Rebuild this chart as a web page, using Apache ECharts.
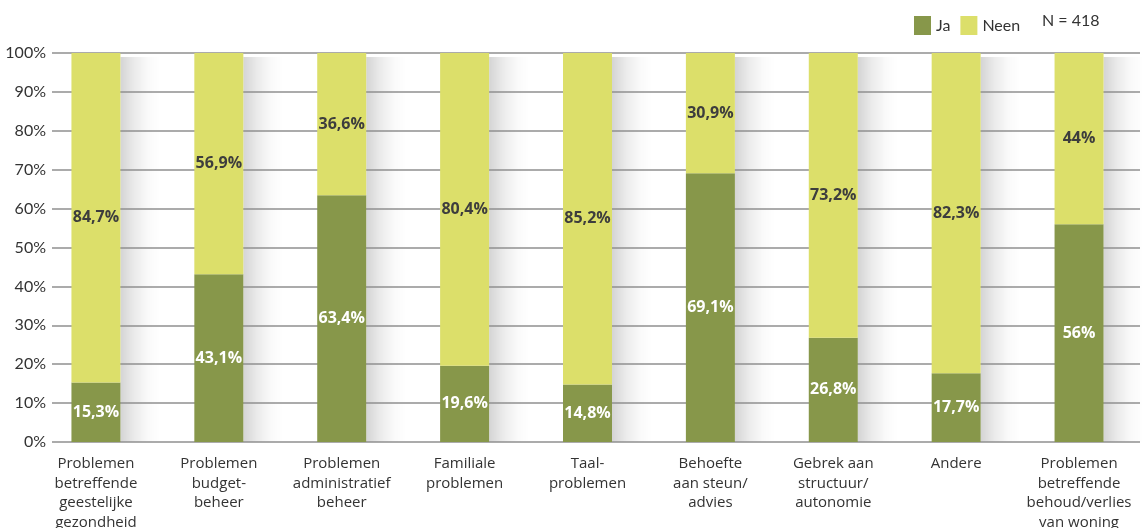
<!DOCTYPE html>
<html><head><meta charset="utf-8">
<script src="https://cdn.jsdelivr.net/npm/echarts@6/dist/echarts.min.js"></script>
<style>html,body{margin:0;padding:0;background:#fff}#c{width:1142px;height:528px}</style>
</head><body><div id="c"></div>
<script>
const categories = [
  "Problemen\nbetreffende\ngeestelijke\ngezondheid",
  "Problemen\nbudget-\nbeheer",
  "Problemen\nadministratief\nbeheer",
  "Familiale\nproblemen",
  "Taal-\nproblemen",
  "Behoefte\naan steun/\nadvies",
  "Gebrek aan\nstructuur/\nautonomie",
  "Andere",
  "Problemen\nbetreffende\nbehoud/verlies\nvan woning"
];
const ja = [15.3, 43.1, 63.4, 19.6, 14.8, 69.1, 26.8, 17.7, 56];
const neen = [84.7, 56.9, 36.6, 80.4, 85.2, 30.9, 73.2, 82.3, 44];
const yTicks = [0, 10, 20, 30, 40, 50, 60, 70, 80, 90, 100];
const totals = ja.map((v, i) => +(v + neen[i]).toFixed(1));

const FONT = 'Lato, "Noto Sans", sans-serif';
const LFONT = '"Open Sans", "Noto Sans", sans-serif';
const fmt = p => String(p.value).replace('.', ',') + '%';
const BAR_W = 49, SH_W = 40;
const chart = echarts.init(document.getElementById('c'));
chart.setOption({
  animation: false,
  textStyle: { fontFamily: FONT },
  legend: {
    data: ['Ja', 'Neen'], left: 909, top: 11,
    itemWidth: 17, itemHeight: 19, itemGap: 10,
    icon: 'rect',
    textStyle: { fontSize: 16, color: '#333', fontFamily: FONT }
  },
  graphic: [{ type: 'text', left: 1042, top: 13, style: { text: 'N = 418', font: '16px ' + FONT, fill: '#333' } }],
  grid: [
    { left: 34.5, right: 1.5, top: 53, bottom: 86, outerBoundsMode: 'none', containLabel: false },
    { left: 52, right: 2, top: 53, bottom: 86, outerBoundsMode: 'none', containLabel: false }
  ],
  xAxis: [
    { type: 'category', data: categories, gridIndex: 0,
      axisLine: { show: false }, axisTick: { show: false },
      axisLabel: { interval: 0, color: '#333', fontSize: 15, lineHeight: 19.5, margin: 12, fontFamily: LFONT } },
    { type: 'category', data: categories, gridIndex: 1, show: false }
  ],
  yAxis: [
    { type: 'value', gridIndex: 0, min: 0, max: 100, interval: 10, show: false, splitLine: { show: false } },
    { type: 'value', gridIndex: 1, min: 0, max: 100, interval: 10, z: 4,
      axisLine: { show: false }, axisTick: { show: false },
      splitLine: { lineStyle: { color: '#8f8f8f', width: 1.5 } },
      axisLabel: { formatter: v => yTicks.includes(v) ? v + '%' : '', color: '#333', fontSize: 16, margin: 6, fontFamily: FONT } }
  ],
  series: [
    { name: 'shadow', type: 'custom', data: totals.map((t, i) => [i, t]), xAxisIndex: 0, yAxisIndex: 0, z: 2, silent: true,
      renderItem: (params, api) => {
        const top = api.coord([api.value(0), api.value(1)]);
        const bot = api.coord([api.value(0), 0]);
        const x = top[0] + BAR_W / 2;
        return {
          type: 'rect',
          shape: { x: x, y: top[1] + 4, width: SH_W, height: bot[1] - top[1] - 4 },
          style: {
            fill: new echarts.graphic.LinearGradient(0, 0, 1, 0, [
              { offset: 0, color: 'rgba(0,0,0,0.17)' },
              { offset: 0.35, color: 'rgba(0,0,0,0.08)' },
              { offset: 0.7, color: 'rgba(0,0,0,0.02)' },
              { offset: 1, color: 'rgba(0,0,0,0)' }
            ])
          }
        };
      } },
    { name: 'Ja', type: 'bar', stack: 's', data: ja, barWidth: BAR_W, xAxisIndex: 0, yAxisIndex: 0, z: 5,
      itemStyle: { color: '#87974a' },
      label: { show: true, position: 'inside', formatter: fmt, color: '#fff', fontWeight: 'bold', fontSize: 16, fontFamily: LFONT } },
    { name: 'Neen', type: 'bar', stack: 's', data: neen, barWidth: BAR_W, xAxisIndex: 0, yAxisIndex: 0, z: 5,
      itemStyle: { color: '#dcdf6a' },
      label: { show: true, position: 'inside', formatter: fmt, color: '#3d3d3d', fontWeight: 'bold', fontSize: 16, fontFamily: LFONT } }
  ]
});
</script></body></html>
